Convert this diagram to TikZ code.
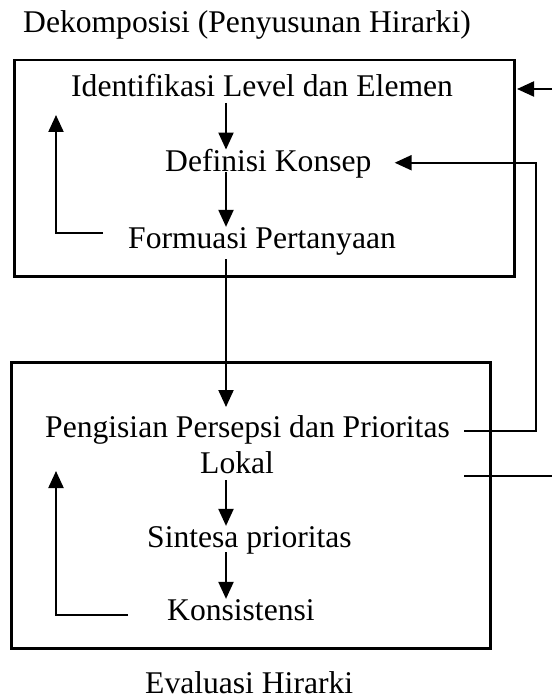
\documentclass[tikz,border=0pt]{standalone}
\usepackage{fontspec}
\setmainfont{Liberation Serif}
\usetikzlibrary{arrows.meta}

\tikzset{
  lbl/.style={inner sep=0pt, anchor=base west, font=\fontsize{31.6}{36}\selectfont},
  frame/.style={draw, line width=2.5pt, inner sep=0pt, anchor=north west},
  link/.style={line width=2.1pt},
  flow/.style={link, -{Triangle[length=17pt,width=15pt]}},
}

\begin{document}
\begin{tikzpicture}[x=1pt, y=-1pt]
  \useasboundingbox (0,0) rectangle (552,700);

  % the two stage frames
  \node[frame, minimum width=500pt, minimum height=216pt] (topbox) at (13,59) {};
  \node[frame, minimum width=479pt, minimum height=286pt] (botbox) at (10,361) {};

  % captions
  \node[lbl] (title) at (23,33)  {Dekomposisi (Penyusunan Hirarki)};
  \node[lbl] (eval)  at (145,693) {Evaluasi Hirarki};

  % decomposition steps
  \node[lbl] (ident) at (71,97)   {Identifikasi Level dan Elemen};
  \node[lbl] (defn)  at (165,172) {Definisi Konsep};
  \node[lbl] (form)  at (128,248) {Formuasi Pertanyaan};

  % evaluation steps
  \node[lbl] (peng)  at (45,437)  {Pengisian Persepsi dan Prioritas};
  \node[lbl] (lokal) at (200,473) {Lokal};
  \node[lbl] (sint)  at (147,547) {Sintesa prioritas};
  \node[lbl] (kons)  at (167,620) {Konsistensi};

  % helper positions
  \coordinate (col)  at (226,0);
  \coordinate (rail) at (536,0);
  \coordinate (edge) at (552,0);
  \coordinate (tipA) at (56,115);
  \coordinate (tipB) at (56,471);
  \coordinate (inR)  at (552,89);
  \coordinate (out2) at (464,476);

  % main flow down the centre column
  \draw[flow] ([yshift=-6pt]ident.base -| col) -- (defn.north -| col);
  \draw[flow] (defn.base -| col) -- (form.north -| col);
  \draw[flow] ([yshift=-11pt]form.base -| col) -- ([yshift=30pt]peng.base -| col);
  \draw[flow] ([yshift=-7pt]lokal.base -| col) -- (sint.north -| col);
  \draw[flow] ([yshift=-5pt]sint.base -| col) -- (kons.north -| col);

  % iteration loops on the left
  \draw[flow] ([shift={(-25pt,15pt)}]form.base west) -| (tipA);
  \draw[flow] ([shift={(-39pt,5pt)}]kons.base west) -| (tipB);

  % feedback from the evaluation back to the concept definition
  \draw[flow] ([shift={(14pt,6pt)}]peng.base east) coordinate (fb0)
    -- (fb0 -| rail) |- ([xshift=23pt, yshift=1.5pt]defn.east);

  % links leaving / entering at the right
  \draw[flow] (inR) -- ([xshift=1.5pt]topbox.east |- inR);
  \draw[link] (out2) -- (out2 -| edge);
\end{tikzpicture}
\end{document}
